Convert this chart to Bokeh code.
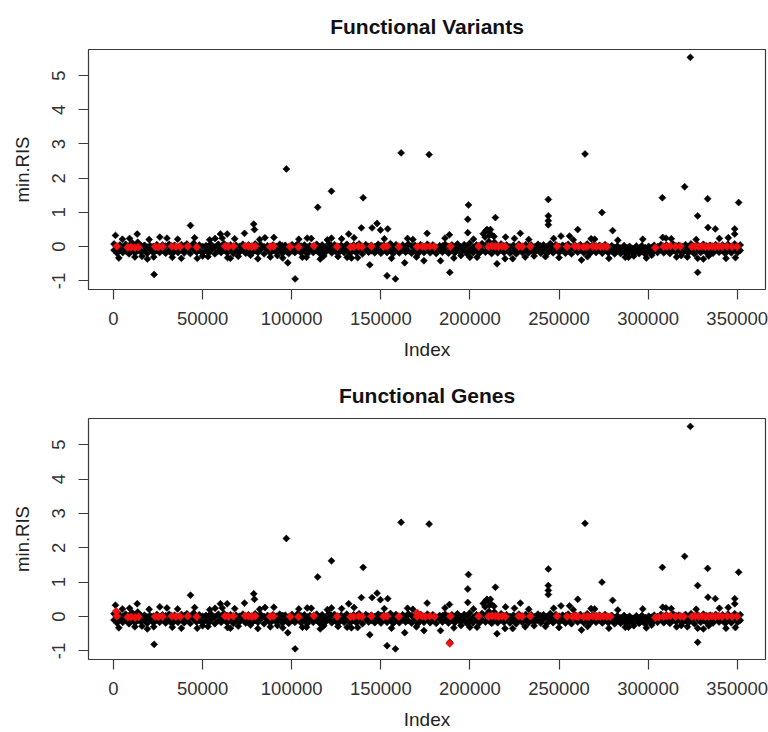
import numpy as np
from bokeh.plotting import figure
from bokeh.layouts import column
from bokeh.models import FixedTicker, Range1d
from bokeh.embed import file_html
from bokeh.resources import INLINE

# ---------------- data ----------------
titles = ["Functional Variants", "Functional Genes"]
x_label = "Index"
y_label = "min.RIS"
x_ticks = [0, 50000, 100000, 150000, 200000, 250000, 300000, 350000]
x_tick_labels = ["0", "50000", "100000", "150000", "200000", "250000", "300000", "350000"]
y_ticks = [-1, 0, 1, 2, 3, 4, 5]
y_tick_labels = ["-1", "0", "1", "2", "3", "4", "5"]

# dense band near zero (black), two interleaved index sets
band_xa = [300, 3600, 6800, 10500, 13600, 17400, 20500, 24300, 27500, 31200,
           34300, 38100, 41200, 45000, 48100, 51900, 55000, 58800, 62000, 65700,
           68800, 72600, 75700, 79500, 82600, 86400, 89500, 93300, 96400, 100200,
           103300, 107100, 110200, 114000, 117100, 120900, 124000, 127800, 130900, 134700,
           137800, 141600, 144700, 148500, 151600, 155400, 158500, 162300, 165400, 169200,
           172300, 176100, 179200, 183000, 186100, 189900, 193000, 196800, 199900, 203700,
           206800, 210600, 213700, 217500, 220600, 224400, 227500, 231300, 234400, 238200,
           241300, 245100, 248200, 252000, 255100, 258900, 262000, 265800, 268900, 272700,
           275800, 279600, 282700, 286500, 289600, 293400, 296500, 300300, 303400, 307200,
           310300, 314100, 317200, 321000, 324100, 327900, 331000, 334800, 337900, 341700,
           344800, 348600, 351700]
band_top = [0.08, 0.05, 0.07, 0.11, 0.13, 0.04, 0.03, 0.06, 0.05, 0.07,
            0.04, 0.06, 0.08, 0.10, 0.05, 0.03, 0.06, 0.07, 0.09, 0.05,
            0.04, 0.07, 0.05, 0.08, 0.06, 0.03, 0.05, 0.07, 0.04, 0.06,
            0.08, 0.05, 0.03, 0.07, 0.05, 0.09, 0.06, 0.04, 0.07, 0.05,
            0.08, 0.06, 0.04, 0.07, 0.05, 0.09, 0.06, 0.05, 0.08, 0.04,
            0.06, 0.07, 0.05, 0.03, 0.07, 0.05, 0.08, 0.06, 0.10, 0.05,
            0.09, 0.15, 0.13, 0.08, 0.05, 0.04, 0.07, 0.06, 0.05, 0.07,
            0.05, 0.09, 0.06, 0.04, 0.07, 0.05, 0.06, 0.08, 0.05, 0.04,
            0.06, 0.03, 0.02, 0.03, 0.01, 0.02, 0.03, 0.01, 0.04, 0.06,
            0.05, 0.07, 0.04, 0.06, 0.08, 0.05, 0.07, 0.04, 0.06, 0.05,
            0.07, 0.08, 0.05]
band_low = [-0.10, -0.08, -0.11, -0.09, -0.12, -0.10, -0.08, -0.11, -0.09, -0.10,
            -0.12, -0.09, -0.10, -0.08, -0.11, -0.10, -0.09, -0.12, -0.10, -0.08,
            -0.11, -0.09, -0.10, -0.12, -0.08, -0.10, -0.11, -0.09, -0.10, -0.12,
            -0.09, -0.10, -0.08, -0.11, -0.10, -0.09, -0.12, -0.10, -0.08, -0.11,
            -0.10, -0.09, -0.12, -0.10, -0.08, -0.11, -0.09, -0.10, -0.12, -0.09,
            -0.10, -0.08, -0.11, -0.09, -0.10, -0.12, -0.08, -0.10, -0.11, -0.09,
            -0.10, -0.12, -0.09, -0.10, -0.08, -0.11, -0.10, -0.09, -0.12, -0.10,
            -0.08, -0.11, -0.09, -0.10, -0.12, -0.09, -0.10, -0.08, -0.11, -0.10,
            -0.09, -0.12, -0.11, -0.13, -0.12, -0.11, -0.13, -0.12, -0.10, -0.09,
            -0.11, -0.10, -0.08, -0.12, -0.10, -0.09, -0.11, -0.10, -0.08, -0.12,
            -0.10, -0.09, -0.11]
band_xb = [2000, 5200, 8700, 12000, 15500, 18900, 22400, 25900, 29300, 32800,
           36200, 39700, 43100, 46600, 50000, 53500, 56900, 60400, 63800, 67300,
           70700, 74200, 77600, 81100, 84500, 88000, 91400, 94900, 98300, 101800,
           105200, 108700, 112100, 115600, 119000, 122500, 125900, 129400, 132800, 136300,
           139700, 143200, 146600, 150100, 153500, 157000, 160400, 163900, 167300, 170800,
           174200, 177700, 181100, 184600, 188000, 191500, 194900, 198400, 201800, 205300,
           208700, 212200, 215600, 219100, 222500, 226000, 229400, 232900, 236300, 239800,
           243200, 246700, 250100, 253600, 257000, 260500, 263900, 267400, 270800, 274300,
           277700, 281200, 284600, 288100, 291500, 295000, 298400, 301900, 305300, 308800,
           312200, 315700, 319100, 322600, 326000, 329500, 332900, 336400, 339800, 343300,
           346700, 350200]
band_mid = [0.01, -0.02, 0.02, 0.00, 0.03, -0.01, 0.01, -0.02, 0.02, 0.00,
            -0.01, 0.02, 0.00, -0.02, 0.01, 0.03, -0.01, 0.00, 0.02, -0.02,
            0.01, 0.00, -0.01, 0.02, 0.00, -0.02, 0.01, 0.03, -0.01, 0.00,
            0.02, -0.01, 0.01, 0.00, -0.02, 0.02, 0.01, -0.01, 0.00, 0.02,
            -0.02, 0.01, 0.00, 0.03, -0.01, 0.01, -0.02, 0.00, 0.02, -0.01,
            0.01, 0.00, -0.02, 0.02, 0.01, -0.01, 0.00, 0.02, -0.02, 0.01,
            0.03, 0.00, -0.01, 0.02, 0.00, -0.02, 0.01, 0.00, -0.01, 0.02,
            0.00, -0.02, 0.01, 0.02, -0.01, 0.00, 0.01, -0.02, 0.02, 0.00,
            -0.01, -0.03, -0.04, -0.03, -0.05, -0.04, -0.03, -0.02, 0.00, 0.01,
            -0.01, 0.02, 0.00, -0.02, 0.01, 0.00, 0.02, -0.01, 0.01, 0.00,
            -0.02, 0.01]
band_bot = [-0.19, -0.17, -0.21, -0.18, -0.16, -0.20, -0.18, -0.17, -0.19, -0.21,
            -0.17, -0.18, -0.20, -0.16, -0.19, -0.18, -0.21, -0.17, -0.18, -0.20,
            -0.16, -0.19, -0.18, -0.17, -0.21, -0.18, -0.16, -0.19, -0.20, -0.17,
            -0.18, -0.21, -0.17, -0.19, -0.16, -0.18, -0.20, -0.17, -0.19, -0.18,
            -0.21, -0.16, -0.18, -0.19, -0.17, -0.20, -0.18, -0.16, -0.19, -0.21,
            -0.17, -0.18, -0.20, -0.16, -0.19, -0.18, -0.17, -0.21, -0.18, -0.19,
            -0.16, -0.20, -0.18, -0.17, -0.19, -0.21, -0.17, -0.18, -0.16, -0.19,
            -0.20, -0.18, -0.17, -0.19, -0.21, -0.16, -0.18, -0.20, -0.17, -0.19,
            -0.18, -0.21, -0.20, -0.22, -0.21, -0.20, -0.22, -0.19, -0.17, -0.18,
            -0.20, -0.16, -0.19, -0.18, -0.21, -0.17, -0.18, -0.19, -0.16, -0.20,
            -0.18, -0.17]

# points just outside the band
near_x = [5000, 16000, 30000, 50000, 57000, 70000, 85000, 92000, 118000, 128000,
          165000, 195000, 225000, 236000, 270000, 292000, 313000, 322000, 340000, 302000,
          207500, 209000, 210500, 212000, 213500, 208500, 211000]
near_y = [0.22, -0.28, 0.25, -0.27, 0.24, -0.28, 0.26, -0.26, -0.27, 0.23,
          0.24, -0.26, 0.24, -0.27, 0.22, -0.27, 0.23, -0.30, 0.24, -0.25,
          0.38, 0.47, 0.45, 0.36, 0.30, 0.28, 0.33]
bump_up_x = [9000, 20000, 26000, 36000, 45500, 54000, 61000, 68000, 82000, 90000,
             104000, 111000, 120000, 135000, 152000, 168000, 186000, 202000, 220000, 233000,
             247000, 258000, 268000, 283000, 297000, 310000, 327000, 345000]
bump_up_y = [0.24, 0.21, 0.28, 0.22, 0.26, 0.20, 0.25, 0.23, 0.21, 0.27,
             0.22, 0.24, 0.20, 0.26, 0.23, 0.21, 0.25, 0.22, 0.28, 0.21,
             0.24, 0.20, 0.23, 0.19, 0.22, 0.25, 0.21, 0.26]
bump_dn_x = [3000, 12000, 19000, 33000, 47000, 53000, 64000, 81000, 88000, 95000,
             106000, 116000, 126000, 137000, 156000, 170000, 191000, 200000, 224000, 231000,
             250000, 266000, 278000, 289000, 299000, 316000, 331000, 349000]
bump_dn_y = [-0.33, -0.30, -0.36, -0.31, -0.34, -0.29, -0.32, -0.35, -0.30, -0.33,
             -0.31, -0.36, -0.29, -0.32, -0.34, -0.30, -0.33, -0.31, -0.35, -0.30,
             -0.32, -0.29, -0.34, -0.31, -0.33, -0.30, -0.36, -0.32]

# outliers
out_x = [97000, 114600, 122300, 140100, 139100, 145100, 147900, 149800, 153900, 143800,
         153500, 158200, 101900, 97800, 22800, 43200, 78700, 79100, 60000, 63800,
         73500, 1100, 13300, 122300, 132000, 108700, 38100, 22600, 65600, 76900,
         108300, 131100, 133500, 161400, 177100, 264600, 323700, 320500, 308000, 333400,
         350800, 244000, 199200, 198800, 198800, 214300, 244000, 244000, 244000, 274100,
         280100, 260500, 251100, 255900, 228300, 209600, 211500, 327800, 333600, 337700,
         348600, 348600, 308200, 188500, 176000, 163400, 174200, 188700, 183500, 215200,
         219700, 204000, 242400, 262600, 287200, 327800, 327800, 334000, 343700, 318600]
out_y = [2.27, 1.15, 1.62, 1.43, 0.55, 0.55, 0.68, 0.49, 0.52, -0.53,
         -0.85, -0.94, -0.94, -0.47, -0.81, 0.62, 0.66, 0.50, 0.37, 0.37,
         0.39, 0.33, 0.37, 0.25, 0.37, 0.25, -0.34, -0.30, -0.34, -0.25,
         -0.31, -0.31, -0.33, 2.74, 2.69, 2.71, 5.53, 1.75, 1.43, 1.40,
         1.29, 1.38, 1.22, 0.80, 0.41, 0.85, 0.90, 0.76, 0.64, 1.00,
         0.47, 0.50, 0.31, 0.31, 0.39, 0.50, 0.50, 0.90, 0.56, 0.52,
         0.52, 0.37, 0.27, 0.35, 0.39, -0.47, -0.41, -0.75, -0.41, -0.50,
         -0.35, -0.31, -0.29, -0.39, -0.31, -0.75, -0.34, -0.27, -0.34, -0.26]

# highlighted (red) points
red_x = [1900, 8000, 9900, 12100, 14000, 23400, 25200, 27500, 32700, 35000,
         37400, 41700, 46700, 62600, 64500, 67300, 73900, 75700, 77600, 79500,
         87900, 89800, 99100, 103800, 112400, 125500, 133000, 134800, 137600, 139500,
         144700, 151600, 153500, 160100, 170400, 173200, 175000, 177500, 180100, 189100,
         204900, 210500, 212400, 214300, 216100, 218000, 219900, 227400, 229300, 233900,
         248900, 254500, 258800, 261000, 263800, 265700, 268900, 270800, 273200, 275000,
         276900, 304100, 308700, 310600, 312500, 315300, 318100, 324600, 326500, 328400,
         330300, 332100, 334000, 335900, 337700, 339600, 341500, 344300, 347100, 349900]
red_y = [0.01, -0.02, -0.01, -0.03, -0.01, 0.00, -0.01, 0.00, 0.01, 0.00,
         0.00, 0.01, -0.01, 0.01, 0.00, 0.01, 0.02, 0.01, 0.00, 0.01,
         0.00, 0.01, 0.00, -0.01, 0.02, 0.00, -0.01, 0.00, 0.01, 0.00,
         0.01, 0.00, 0.01, 0.00, 0.00, 0.01, 0.00, 0.01, 0.00, 0.01,
         0.01, 0.00, 0.02, 0.01, 0.00, 0.01, 0.00, 0.01, 0.00, 0.01,
         0.01, 0.00, 0.01, 0.00, -0.01, 0.00, 0.01, 0.00, 0.00, 0.01,
         0.00, -0.03, 0.00, 0.01, 0.02, 0.00, 0.01, 0.00, 0.01, 0.00,
         0.01, 0.00, 0.00, 0.01, 0.00, 0.01, 0.00, 0.01, 0.00, 0.00]
# extra red points present only in the "Functional Genes" panel
gene_extra_x = [1500, 170500, 188700, 257500, 259900, 266800, 272000, 278800, 306000, 320000]
gene_extra_y = [0.15, 0.10, -0.78, 0.00, 0.01, 0.00, 0.01, 0.00, -0.02, 0.00]

# ---------------- drawing ----------------
FONT = "Liberation Sans"
BLACK = "#000000"
RED = "#ee1111"
ANG = np.pi / 4


def make_panel(title, rx, ry, height, top, bottom):
    p = figure(width=768, height=height, output_backend="svg", toolbar_location=None,
               x_range=Range1d(-14030, 365870), y_range=Range1d(-1.25, 5.76),
               min_border_left=88, min_border_right=3,
               min_border_top=top, min_border_bottom=bottom)
    p.title.text = title
    p.title.align = "center"
    p.title.text_font = FONT
    p.title.text_font_size = "21px"
    p.title.text_font_style = "bold"
    p.title.text_color = "#111111"
    p.title.standoff = 24
    p.grid.visible = False
    p.outline_line_color = "#3a3a3a"
    p.outline_line_width = 1.2
    p.background_fill_color = "white"
    p.border_fill_color = "white"

    for ax in (p.xaxis[0], p.yaxis[0]):
        ax.axis_line_color = None
        ax.major_tick_out = 10
        ax.major_tick_in = 0
        ax.major_tick_line_color = "#3a3a3a"
        ax.major_tick_line_width = 1.2
        ax.minor_tick_line_color = None
        ax.major_label_text_font = FONT
        ax.major_label_text_font_size = "18.5px"
        ax.major_label_text_color = "#333333"
        ax.axis_label_text_font = FONT
        ax.axis_label_text_font_style = "normal"
        ax.axis_label_text_color = "#222222"

    p.xaxis.ticker = FixedTicker(ticks=x_ticks)
    p.xaxis.major_label_overrides = dict(zip(x_ticks, x_tick_labels))
    p.xaxis.axis_label = x_label
    p.xaxis.axis_label_text_font_size = "19px"
    p.xaxis.major_label_standoff = 12
    p.xaxis.axis_label_standoff = 11

    p.yaxis.ticker = FixedTicker(ticks=y_ticks)
    p.yaxis.major_label_overrides = dict(zip(y_ticks, y_tick_labels))
    p.yaxis.major_label_orientation = "vertical"
    p.yaxis.axis_label = y_label
    p.yaxis.axis_label_text_font_size = "18.5px"
    p.yaxis.major_label_standoff = 13
    p.yaxis.axis_label_standoff = 17

    kw = dict(marker="square", size=4.9, angle=ANG, line_width=0.6)
    p.scatter(band_xa, band_top, color=BLACK, **kw)
    p.scatter(band_xb, band_mid, color=BLACK, **kw)
    p.scatter(band_xa, band_low, color=BLACK, **kw)
    p.scatter(band_xb, band_bot, color=BLACK, **kw)
    p.scatter(near_x, near_y, color=BLACK, **kw)
    p.scatter(bump_up_x, bump_up_y, color=BLACK, **kw)
    p.scatter(bump_dn_x, bump_dn_y, color=BLACK, **kw)
    p.scatter(out_x, out_y, color=BLACK, **kw)
    p.scatter(rx, ry, color=RED, marker="square", size=5.8, angle=ANG, line_width=0.5)
    return p


p1 = make_panel(titles[0], red_x, red_y, 366, 48, 77)
p2 = make_panel(titles[1], red_x + gene_extra_x, red_y + gene_extra_y, 366, 52, 73)

layout = column(p1, p2, spacing=0)
open("out.html", "w").write(file_html(layout, INLINE))
